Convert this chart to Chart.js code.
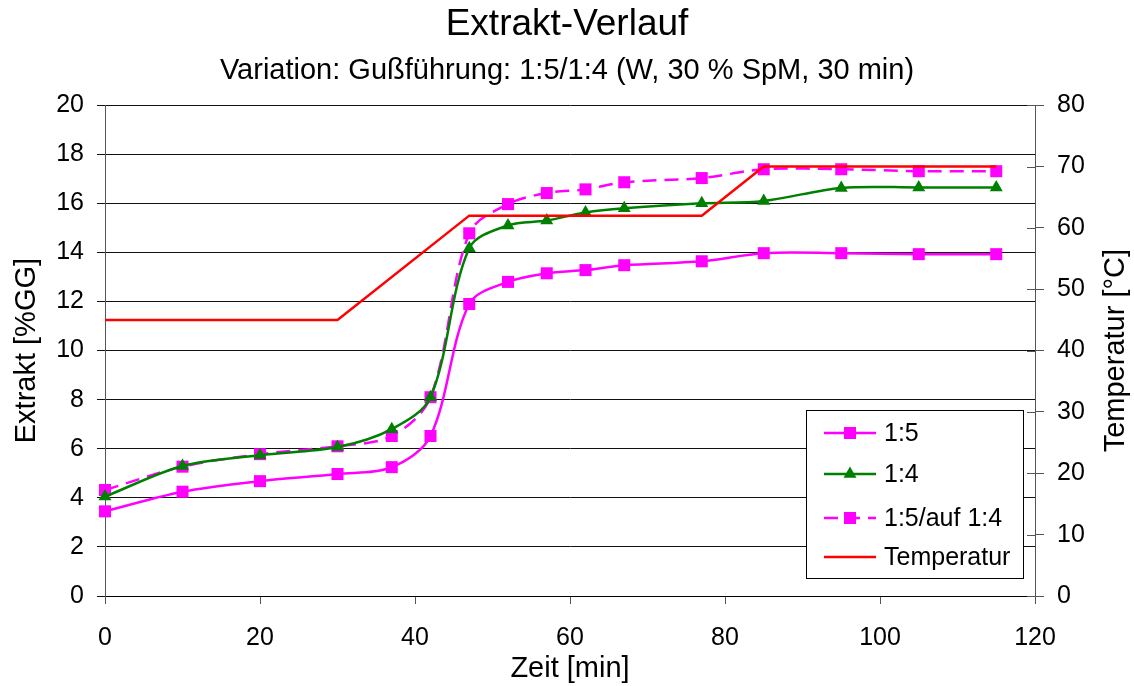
<!DOCTYPE html>
<html>
<head>
<meta charset="utf-8">
<script src="https://cdn.jsdelivr.net/npm/chart.js@4/dist/chart.umd.min.js"></script>
<style>
  html, body { margin: 0; padding: 0; background: #fff; }
  #wrap { width: 1134px; height: 686px; }
</style>
</head>
<body>
<div id="wrap"><canvas id="c" width="1134" height="686"></canvas></div>
<script>
// Maischzeit in Minuten und gemessene Extraktwerte
const zeit = [0, 10, 20, 30, 37, 42, 47, 52, 57, 62, 67, 77, 85, 95, 105, 115];
const extrakt15 = [3.45, 4.25, 4.68, 4.97, 5.25, 6.52, 11.9, 12.8, 13.15, 13.28, 13.48, 13.64, 13.97, 13.97, 13.93, 13.93];
const extrakt14 = [4.05, 5.3, 5.74, 6.07, 6.8, 8.1, 14.17, 15.1, 15.3, 15.63, 15.8, 16.0, 16.1, 16.63, 16.65, 16.65];
const extrakt15auf14 = [4.32, 5.27, 5.78, 6.1, 6.52, 8.1, 14.78, 15.97, 16.42, 16.57, 16.86, 17.03, 17.39, 17.39, 17.31, 17.31];

// Temperaturprogramm
const tempZeit = [0, 30, 47, 77, 85, 115];
const temperatur = [45, 45, 62, 62, 70, 70];

const seriesNames = ['1:5', '1:4', '1:5/auf 1:4', 'Temperatur'];
const FONT = '"Liberation Sans", Arial, Helvetica, sans-serif';

const toXY = (xs, ys) => xs.map((x, i) => ({ x: x, y: ys[i] }));

// Legend box inside the plot area (lower right)
const boxLegend = {
  id: 'boxLegend',
  afterDraw(chart) {
    const ctx = chart.ctx;
    const ca = chart.chartArea;
    const w = 217, h = 168;
    const bx = ca.right - 12 - w;
    const by = ca.bottom - 18 - h;
    ctx.save();
    ctx.fillStyle = '#fff';
    ctx.fillRect(bx, by, w, h);
    ctx.strokeStyle = '#000';
    ctx.lineWidth = 1;
    ctx.strokeRect(bx + 0.5, by + 0.5, w, h);
    const rows = [23, 64, 108, 147];
    const order = [0, 1, 2, 3];
    order.forEach((di, r) => {
      const ds = chart.data.datasets[di];
      const y = by + rows[r];
      const x0 = bx + 18, x1 = bx + 70, xm = bx + 44;
      ctx.save();
      ctx.strokeStyle = ds.borderColor;
      ctx.lineWidth = ds.borderWidth;
      ctx.setLineDash(ds.borderDash || []);
      ctx.beginPath();
      ctx.moveTo(x0, y);
      ctx.lineTo(x1, y);
      ctx.stroke();
      ctx.restore();
      ctx.fillStyle = ds.pointBackgroundColor;
      if (ds.pointStyle === 'rect') {
        ctx.fillRect(xm - 6, y - 6, 12, 12);
      } else if (ds.pointStyle === 'triangle') {
        const rr = 7.5;
        ctx.beginPath();
        ctx.moveTo(xm, y - rr);
        ctx.lineTo(xm + 0.866 * rr, y + 0.5 * rr);
        ctx.lineTo(xm - 0.866 * rr, y + 0.5 * rr);
        ctx.closePath();
        ctx.fill();
      }
      ctx.fillStyle = '#000';
      ctx.font = '25px ' + FONT;
      ctx.textAlign = 'left';
      ctx.textBaseline = 'middle';
      ctx.fillText(ds.label, bx + 78, y + 1);
    });
    ctx.restore();
  }
};

// Right axis: inner tick halves and the bottom-to-top axis title
const rightAxisExtras = {
  id: 'rightAxisExtras',
  afterDraw(chart) {
    const ctx = chart.ctx;
    const ca = chart.chartArea;
    const s = chart.scales.y1;
    ctx.save();
    ctx.strokeStyle = '#555';
    ctx.lineWidth = 1;
    s.ticks.forEach(t => {
      const py = Math.round(s.getPixelForValue(t.value)) + 0.5;
      ctx.beginPath();
      ctx.moveTo(ca.right - 8, py);
      ctx.lineTo(ca.right, py);
      ctx.stroke();
    });
    ctx.translate(chart.width - 18, (ca.top + ca.bottom) / 2);
    ctx.rotate(-Math.PI / 2);
    ctx.fillStyle = '#000';
    ctx.font = '29px ' + FONT;
    ctx.textAlign = 'center';
    ctx.textBaseline = 'middle';
    ctx.fillText('Temperatur [°C]', 0, 0);
    ctx.restore();
  }
};

const magenta = '#FF00FF', green = '#008000', red = '#FF0000';

new Chart(document.getElementById('c'), {
  type: 'line',
  data: {
    datasets: [
      {
        label: seriesNames[0],
        data: toXY(zeit, extrakt15),
        yAxisID: 'y',
        borderColor: magenta, borderWidth: 2.5,
        pointStyle: 'rect', pointRadius: 8.5,
        pointBackgroundColor: magenta, pointBorderColor: magenta, pointBorderWidth: 0,
        tension: 0.33, clip: false
      },
      {
        label: seriesNames[1],
        data: toXY(zeit, extrakt14),
        yAxisID: 'y',
        borderColor: green, borderWidth: 2.5,
        pointStyle: 'triangle', pointRadius: 7.5,
        pointBackgroundColor: green, pointBorderColor: green, pointBorderWidth: 0,
        tension: 0.33, clip: false
      },
      {
        label: seriesNames[2],
        data: toXY(zeit, extrakt15auf14),
        yAxisID: 'y',
        borderColor: magenta, borderWidth: 2.5, borderDash: [14, 8],
        pointStyle: 'rect', pointRadius: 8.5,
        pointBackgroundColor: magenta, pointBorderColor: magenta, pointBorderWidth: 0,
        tension: 0.33, clip: false
      },
      {
        label: seriesNames[3],
        data: toXY(tempZeit, temperatur),
        yAxisID: 'y1',
        borderColor: red, borderWidth: 2.5,
        pointRadius: 0, pointBackgroundColor: red,
        tension: 0, order: -1, clip: false
      }
    ]
  },
  options: {
    responsive: false,
    animation: false,
    devicePixelRatio: 1,
    layout: { padding: 0 },
    plugins: {
      legend: { display: false },
      tooltip: { enabled: false },
      title: {
        display: true,
        text: 'Extrakt-Verlauf',
        color: '#000',
        font: { family: FONT, size: 37, weight: 'normal' },
        padding: { top: 3, bottom: 0 }
      },
      subtitle: {
        display: true,
        text: 'Variation: Gußführung: 1:5/1:4 (W, 30 % SpM, 30 min)',
        color: '#000',
        font: { family: FONT, size: 29, weight: 'normal' },
        padding: { top: 6, bottom: 17 }
      }
    },
    scales: {
      x: {
        type: 'linear',
        min: 0, max: 120,
        ticks: { stepSize: 20, color: '#000', font: { family: FONT, size: 25 }, padding: 19, maxRotation: 0 },
        grid: { drawOnChartArea: false, drawTicks: true, tickLength: 8, color: '#555' },
        border: { color: '#000' },
        title: { display: true, text: 'Zeit [min]', color: '#000', font: { family: FONT, size: 29 }, padding: { top: 0, bottom: 0 } },
        afterFit(s) { s.height = 90; }
      },
      y: {
        position: 'left',
        min: 0, max: 20,
        ticks: { stepSize: 2, color: '#000', font: { family: FONT, size: 25 }, padding: 13 },
        grid: { color: '#111', lineWidth: 1, tickLength: 8 },
        border: { color: '#555' },
        title: { display: true, text: 'Extrakt [%GG]', color: '#000', font: { family: FONT, size: 29 }, padding: { top: 10, bottom: 0 } },
        afterFit(s) { s.width = 105; }
      },
      y1: {
        position: 'right',
        min: 0, max: 80,
        ticks: { stepSize: 10, color: '#000', font: { family: FONT, size: 25 }, padding: 13 },
        grid: { drawOnChartArea: false, tickLength: 9, color: '#555' },
        border: { color: '#555' },
        afterFit(s) { s.width = 99; }
      }
    }
  },
  plugins: [boxLegend, rightAxisExtras]
});
</script>
</body>
</html>
